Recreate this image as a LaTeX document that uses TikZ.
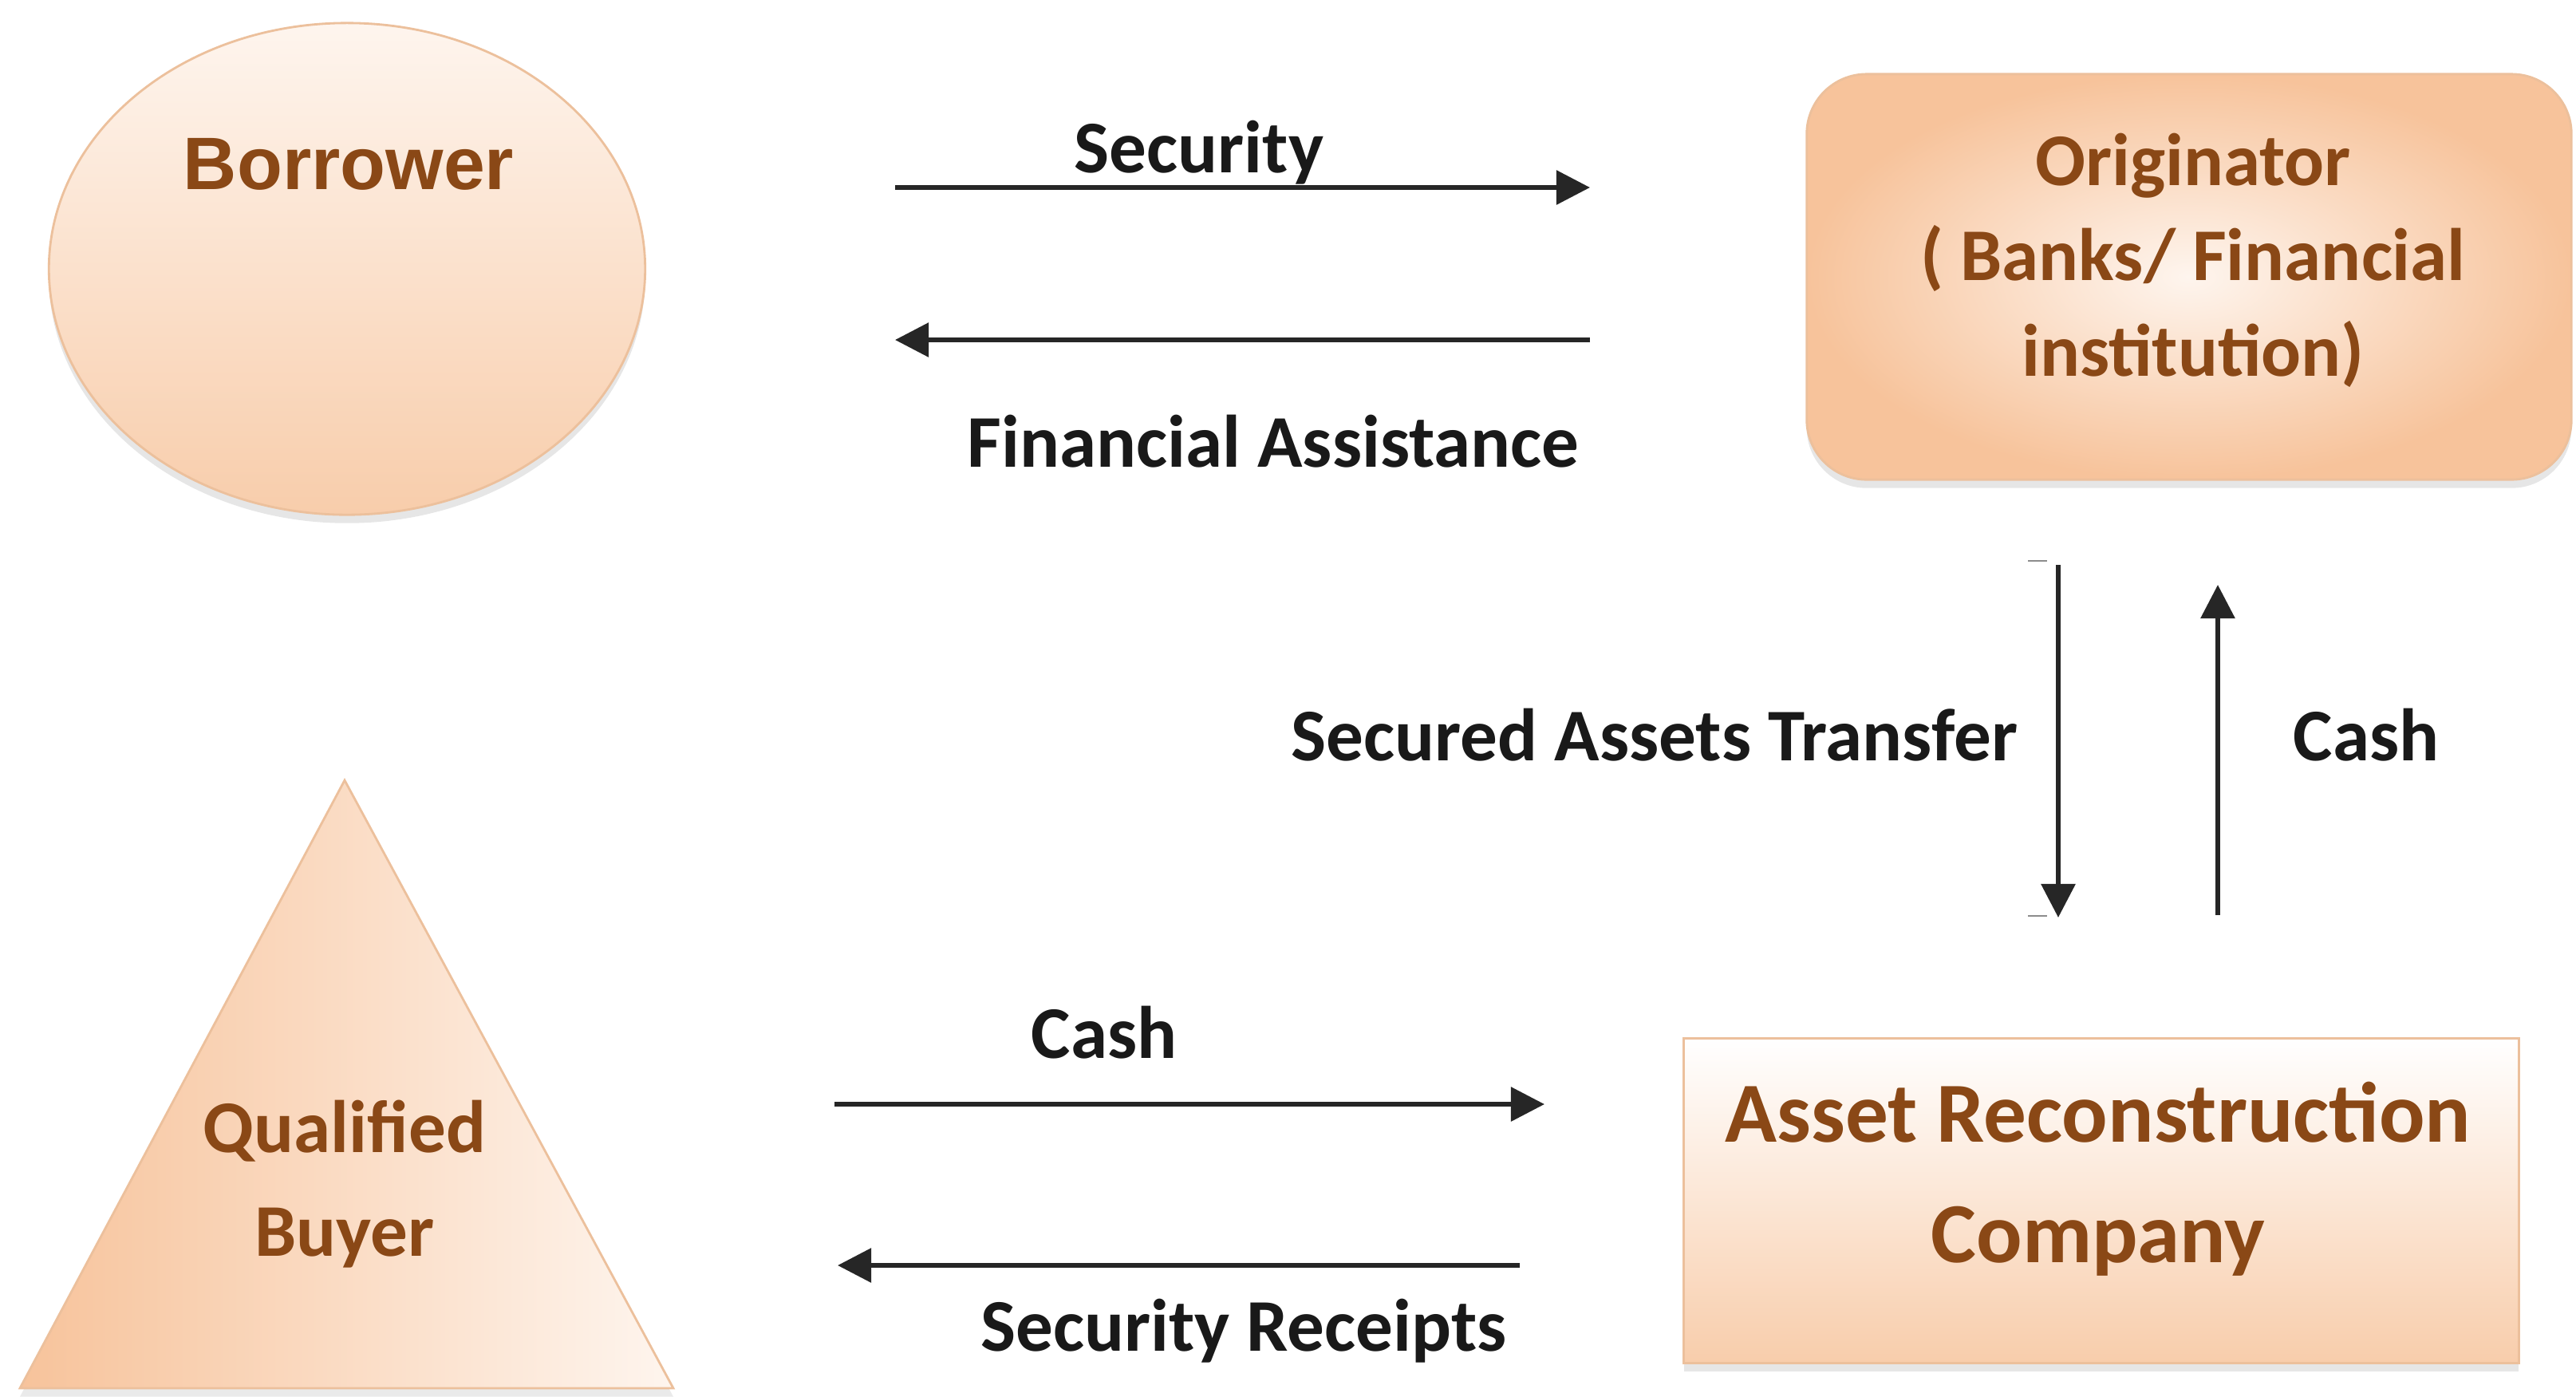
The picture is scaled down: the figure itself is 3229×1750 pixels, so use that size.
\documentclass[tikz,border=0pt]{standalone}
\usepackage{fontspec}
\setmainfont{Carlito}
\newfontfamily\arialfont{Liberation Sans}
\usetikzlibrary{arrows.meta,shapes.geometric,shadows,positioning}

\definecolor{peach}{HTML}{F8CDAB}
\definecolor{peachdeep}{HTML}{F7C39B}
\definecolor{peachlight}{HTML}{FEF5EE}
\definecolor{peachedge}{HTML}{ECC09C}
\definecolor{brownink}{HTML}{8A4816}

\tikzset{
  party/.style={draw=peachedge, line width=0.8pt,
    drop shadow={shadow xshift=0pt, shadow yshift=-3pt, opacity=0.18, fill=black!55}},
  partytext/.style={text=brownink, font=\bfseries\fontsize{26.5}{33}\selectfont, align=center},
  flow/.style={line width=1.7pt, black!85, -{Triangle[length=12pt,width=12pt]}},
  flowlabel/.style={font=\bfseries\fontsize{26.5}{32}\selectfont, text=black!90, anchor=base},
}

\begin{document}
\begin{tikzpicture}[x=0.01cm,y=-0.01cm]
\useasboundingbox (0,0) rectangle (3229,1750);

% the four parties
\node[party, ellipse, minimum width=7.47cm, minimum height=6.16cm,
      top color=peachlight, bottom color=peach] (borrower) at (435,337) {};
\node[partytext, font=\arialfont\bfseries\fontsize{26.5}{33}\selectfont, anchor=base] (borrowerText) at (437,237) {Borrower};

\node[party, rectangle, rounded corners=0.75cm, minimum width=9.58cm, minimum height=5.08cm,
      inner color=peachlight, outer color=peachdeep] (originator) at (2744,347) {};
\node[partytext, font=\bfseries\fontsize{26.5}{34}\selectfont] (originatorText) at (2749,326)
      {Originator\\( Banks/ Financial\\institution)};

\draw[draw=peachedge, line width=0.8pt, left color=peachdeep, right color=peachlight,
      drop shadow={shadow xshift=0pt, shadow yshift=-3pt, opacity=0.15, fill=black!55}]
      (432,978) -- (844,1740) -- (25,1740) -- cycle;
\node[partytext, font=\bfseries\fontsize{26.5}{37}\selectfont] (buyerText) at (432,1484) {Qualified\\Buyer};

\node[party, rectangle, minimum width=10.46cm, minimum height=4.07cm,
      top color=white, bottom color=peach] (arc) at (2634,1505) {};
\node[partytext, font=\bfseries\fontsize{30.5}{43}\selectfont] (arcText) at (2630,1478)
      {Asset Reconstruction\\Company};

% arrow ends
\coordinate (secA) at (1122,235);  \coordinate (secB) at (1993,235);
\coordinate (finA) at (1993,426);  \coordinate (finB) at (1122,426);
\coordinate (trfA) at (2580,708);  \coordinate (trfB) at (2580,1150);
\coordinate (upA) at (2780,1147);  \coordinate (upB) at (2780,733);
\coordinate (cashA) at (1046,1384); \coordinate (cashB) at (1936,1384);
\coordinate (recA) at (1905,1586);  \coordinate (recB) at (1050,1586);

\draw[flow] (secA) -- (secB);
\draw[flow] (finA) -- (finB);
\draw[flow] (trfA) -- (trfB);
\draw[flow] (upA) -- (upB);
\draw[flow] (cashA) -- (cashB);
\draw[flow] (recA) -- (recB);
\draw[black!45, line width=0.6pt] (2542,703) -- (2566,703);
\draw[black!45, line width=0.6pt] (2542,1148) -- (2566,1148);

\node[flowlabel] (securityLbl) at (1503,216) {Security};
\node[flowlabel] (assistLbl) at (1596,585) {Financial Assistance};
\node[flowlabel] (transferLbl) at (2074,953) {Secured Assets Transfer};
\node[flowlabel] (cashUpLbl) at (2966,953) {Cash};
\node[flowlabel] (cashLbl) at (1384,1326) {Cash};
\node[flowlabel] (receiptLbl) at (1559,1693) {Security Receipts};
\end{tikzpicture}
\end{document}
